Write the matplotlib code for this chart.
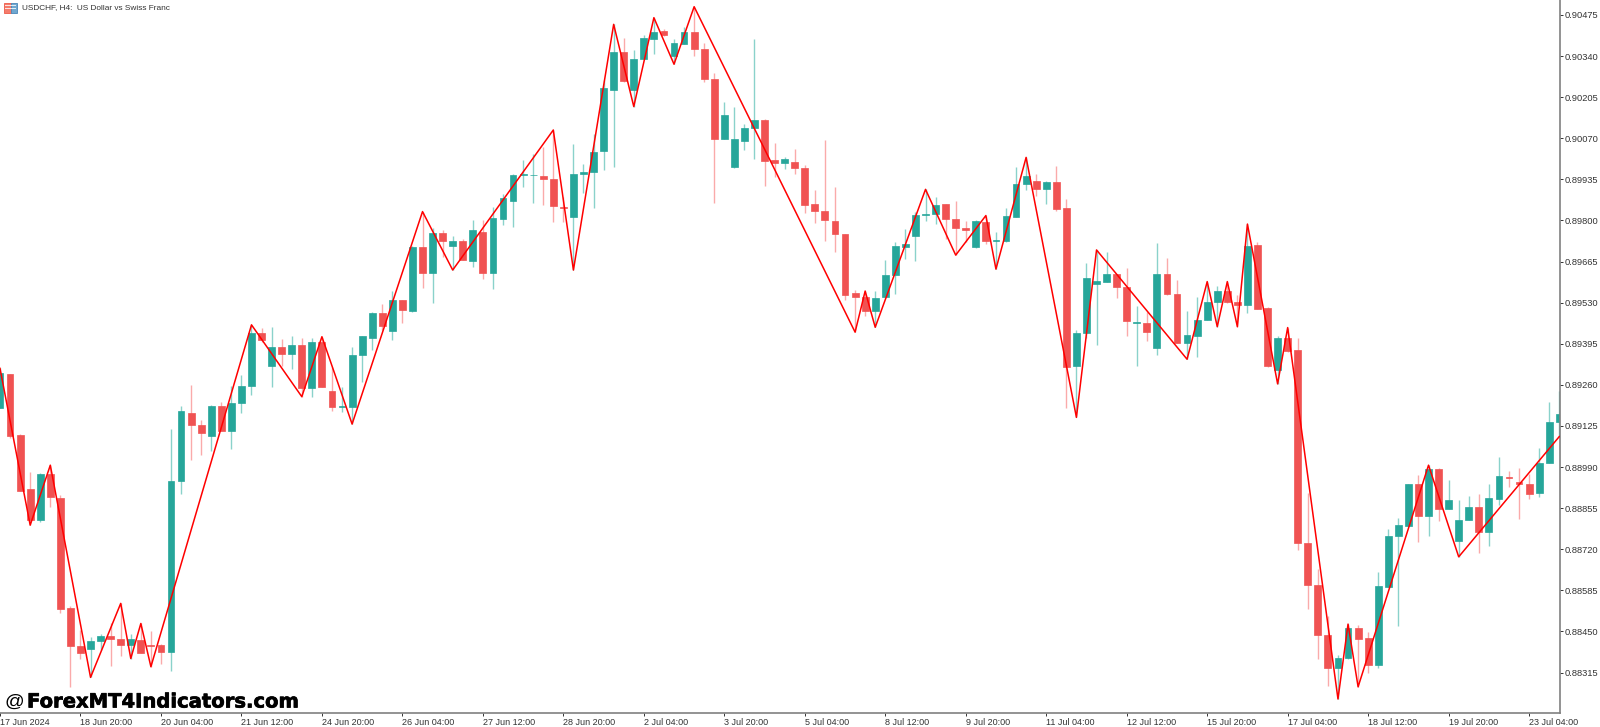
from matplotlib import pyplot as plt
from matplotlib.patches import Rectangle
import matplotlib.patheffects as pe
import numpy as np

# prices are in points (1 point = 0.00001)
open_pts = [
    89183, 89295, 89095, 88918, 88816, 88966, 88887, 88526, 88402, 88393,
    88419, 88435, 88426, 88405, 88421, 88407, 88406, 88383, 88943, 89168,
    89129, 89092, 89189, 89109, 89199, 89257, 89431, 89321, 89385, 89360,
    89390, 89251, 89401, 89241, 89186, 89188, 89359, 89415, 89497, 89438,
    89537, 89503, 89714, 89626, 89760, 89717, 89732, 89668, 89761, 89626,
    89806, 89864, 89950, 89948, 89947, 89937, 89843, 89810, 89953, 89960,
    90029, 90227, 90353, 90229, 90331, 90396, 90421, 90341, 90381, 90420,
    90364, 90266, 90068, 89974, 90061, 90103, 90130, 89997, 89989, 89992,
    89972, 89853, 89832, 89798, 89755, 89562, 89547, 89502, 89548, 89621,
    89714, 89749, 89818, 89821, 89853, 89804, 89774, 89712, 89796, 89732,
    89732, 89811, 89921, 89931, 89903, 89925, 89840, 89322, 89430, 89592,
    89599, 89623, 89581, 89463, 89462, 89381, 89625, 89558, 89398, 89421,
    89473, 89532, 89569, 89532, 89522, 89718, 89512, 89309, 89414, 89374,
    88740, 88603, 88438, 88331, 88364, 88461, 88428, 88341, 88597, 88762,
    88797, 88933, 88829, 88983, 88853, 88748, 88816, 88859, 88777, 88885,
    88958, 88941, 88933, 88903, 89002, 89137]
close_pts = [
    89298, 89093, 88912, 88816, 88967, 88891, 88524, 88402, 88380, 88420,
    88435, 88426, 88406, 88424, 88380, 88403, 88383, 88943, 89173, 89129,
    89102, 89191, 89109, 89199, 89255, 89431, 89407, 89385, 89360, 89390,
    89251, 89399, 89253, 89186, 89189, 89359, 89419, 89497, 89453, 89537,
    89505, 89714, 89626, 89760, 89733, 89732, 89670, 89767, 89628, 89808,
    89872, 89949, 89952, 89950, 89936, 89847, 89840, 89953, 89959, 90024,
    90236, 90353, 90257, 90331, 90398, 90420, 90409, 90382, 90420, 90364,
    90264, 90068, 90146, 90066, 90103, 90131, 89994, 89989, 90002, 89973,
    89852, 89831, 89800, 89756, 89556, 89547, 89502, 89546, 89621, 89716,
    89721, 89819, 89821, 89852, 89805, 89775, 89770, 89797, 89732, 89736,
    89813, 89921, 89947, 89903, 89925, 89839, 89320, 89431, 89611, 89600,
    89625, 89581, 89471, 89466, 89432, 89625, 89557, 89398, 89422, 89473,
    89532, 89569, 89532, 89522, 89716, 89510, 89321, 89415, 89372, 88740,
    88603, 88439, 88329, 88362, 88460, 88426, 88341, 88598, 88765, 88798,
    88933, 88829, 88982, 88853, 88881, 88817, 88859, 88775, 88889, 88961,
    88955, 88933, 88901, 89003, 89138, 89164]
high_pts = [
    89314, 89295, 89097, 88972, 88969, 88996, 88898, 88534, 88454, 88432,
    88441, 88478, 88542, 88441, 88476, 88451, 88408, 89114, 89191, 89259,
    89146, 89193, 89204, 89256, 89292, 89457, 89446, 89451, 89410, 89420,
    89415, 89415, 89418, 89320, 89254, 89385, 89421, 89498, 89526, 89569,
    89539, 89716, 89829, 89774, 89768, 89749, 89739, 89801, 89801, 89843,
    89887, 89952, 89998, 90017, 90040, 90097, 89878, 90050, 89985, 90083,
    90261, 90444, 90400, 90360, 90409, 90466, 90429, 90396, 90436, 90502,
    90382, 90283, 90188, 90174, 90117, 90396, 90132, 90055, 90007, 90035,
    89982, 89900, 90064, 89909, 89755, 89571, 89568, 89569, 89670, 89728,
    89771, 89829, 89902, 89878, 89854, 89865, 89799, 89801, 89816, 89762,
    89840, 89974, 90007, 89952, 89931, 89980, 89869, 89440, 89659, 89703,
    89697, 89624, 89644, 89519, 89500, 89727, 89675, 89604, 89502, 89547,
    89599, 89584, 89599, 89555, 89788, 89728, 89514, 89420, 89448, 89413,
    88903, 88654, 88500, 88372, 88474, 88471, 88449, 88646, 88788, 88823,
    88934, 88963, 88996, 88986, 88947, 88881, 88895, 88900, 88933, 89022,
    88978, 88986, 88967, 89054, 89205, 89241]
low_pts = [
    89183, 89084, 88912, 88799, 88810, 88860, 88511, 88268, 88358, 88299,
    88389, 88337, 88370, 88361, 88380, 88334, 88343, 88321, 88901, 89013,
    89031, 89042, 89109, 89048, 89168, 89227, 89399, 89254, 89322, 89311,
    89221, 89219, 89253, 89175, 89170, 89131, 89270, 89375, 89440, 89407,
    89462, 89500, 89579, 89530, 89681, 89637, 89670, 89648, 89606, 89575,
    89785, 89777, 89911, 89858, 89849, 89794, 89794, 89637, 89889, 89842,
    89966, 89977, 90256, 90174, 90329, 90347, 90406, 90313, 90379, 90341,
    90256, 89856, 90068, 89973, 90031, 90001, 89913, 89944, 89968, 89952,
    89825, 89793, 89733, 89697, 89539, 89433, 89487, 89449, 89546, 89558,
    89673, 89668, 89799, 89787, 89738, 89686, 89730, 89710, 89721, 89640,
    89730, 89810, 89900, 89881, 89854, 89832, 89185, 89153, 89413, 89391,
    89597, 89546, 89421, 89322, 89403, 89358, 89555, 89398, 89344, 89352,
    89473, 89451, 89528, 89451, 89497, 89508, 89319, 89263, 89369, 88717,
    88525, 88358, 88272, 88228, 88361, 88268, 88312, 88331, 88597, 88468,
    88796, 88744, 88764, 88812, 88853, 88695, 88815, 88708, 88731, 88865,
    88925, 88819, 88885, 88890, 89002, 89090]

# zigzag pivots: bar number and price in points
zigzag_bars = [0, 3, 5, 9, 12, 13, 14, 15, 25, 30, 32, 35, 42, 45, 55, 57, 61, 63, 65, 67, 69,
               85, 86, 87, 92, 95, 98, 99, 102, 107, 109, 118, 120, 121, 122, 123, 124, 127,
               128, 133, 134, 135, 142, 145, 155]
zigzag_pts = [89314, 88799, 88996, 88299, 88542, 88361, 88476, 88334, 89457, 89221, 89418,
              89131, 89829, 89637, 90097, 89637, 90444, 90174, 90466, 90313, 90502,
              89433, 89568, 89449, 89902, 89686, 89816, 89640, 90007, 89153, 89703,
              89344, 89599, 89451, 89599, 89451, 89788, 89263, 89448, 88228, 88474,
              88268, 88996, 88695, 89090]

price_ticks = [90475, 90340, 90205, 90070, 89935, 89800, 89665, 89530, 89395,
               89260, 89125, 88990, 88855, 88720, 88585, 88450, 88315]
date_labels = ["17 Jun 2024", "18 Jun 20:00", "20 Jun 04:00", "21 Jun 12:00", "24 Jun 20:00",
               "26 Jun 04:00", "27 Jun 12:00", "28 Jun 20:00", "2 Jul 04:00", "3 Jul 20:00",
               "5 Jul 04:00", "8 Jul 12:00", "9 Jul 20:00", "11 Jul 04:00", "12 Jul 12:00",
               "15 Jul 20:00", "17 Jul 04:00", "18 Jul 12:00", "19 Jul 20:00", "23 Jul 04:00"]
bars_per_label = 8

BULL = '#26A69A'
BEAR = '#F05252'
BULL_WICK = '#8AD2CB'
BEAR_WICK = '#FAAAAA'
W, H = 1600, 727

plt.rcParams['font.family'] = ['Liberation Sans', 'DejaVu Sans']
fig = plt.figure(figsize=(W / 100, H / 100), dpi=100, facecolor='white')
ax = fig.add_axes([0, 14 / H, 1560 / W, 713 / H])

opens = np.array(open_pts) / 1e5
closes = np.array(close_pts) / 1e5
highs = np.array(high_pts) / 1e5
lows = np.array(low_pts) / 1e5
bars = np.arange(len(opens))
up = closes >= opens

# wicks first, bodies on top, zigzag over everything
ax.vlines(bars, lows, highs, colors=np.where(up, BULL_WICK, BEAR_WICK), linewidth=1.0, zorder=1)
colors = np.where(up, BULL, BEAR)
ax.bar(bars, np.abs(closes - opens), bottom=np.minimum(opens, closes), width=0.68,
       color=colors, edgecolor=colors, linewidth=0.5, zorder=2)
ax.plot(zigzag_bars, np.array(zigzag_pts) / 1e5, color='#FF0000', linewidth=1.1, zorder=3)

ax.set_xlim(0, 155.07)
ax.set_ylim(0.88182, 0.90524)

ax.yaxis.tick_right()
ax.set_yticks(np.array(price_ticks) / 1e5)
ax.set_yticklabels(["%.5f" % (p / 1e5) for p in price_ticks])
ax.set_xticks(np.arange(len(date_labels)) * bars_per_label)
ax.set_xticklabels(date_labels, ha='left')
ax.tick_params(axis='y', length=2, width=0.7, pad=1, labelsize=6.7, colors='#333333')
ax.tick_params(axis='x', length=2, width=0.7, pad=1.5, labelsize=6.5, colors='#333333')

for side in ['top', 'left']:
    ax.spines[side].set_visible(False)
for side in ['right', 'bottom']:
    ax.spines[side].set_color('#808080')
    ax.spines[side].set_linewidth(1.2)

# header: symbol icon and caption
fig.add_artist(Rectangle((4 / W, 1 - 13 / H), 7 / W, 10 / H, facecolor='#F47C6C', edgecolor='#EE5A48', linewidth=0.6))
fig.add_artist(Rectangle((11 / W, 1 - 13 / H), 6 / W, 10 / H, facecolor='#6FA8D0', edgecolor='#4A86B8', linewidth=0.6))
for row in [6, 9]:
    fig.add_artist(Rectangle((5 / W, 1 - row / H), 11 / W, 1 / H, facecolor='white', edgecolor='none', alpha=0.8))
fig.text(22 / W, 1 - 8 / H, "USDCHF, H4:  US Dollar vs Swiss Franc", fontsize=5.95,
         color='#333333', va='center', ha='left')

# watermark
fig.text(4 / W, 1 - 702 / H, "@", fontsize=14, color='black', va='center', ha='left')
wm = fig.text(27 / W, 1 - 702 / H, "ForexMT4Indicators.com", fontsize=14.1, fontweight='bold',
              family='DejaVu Sans', color='black', va='center', ha='left')
wm.set_path_effects([pe.withStroke(linewidth=0.5, foreground='black')])

fig.savefig('out.png', dpi=100)
